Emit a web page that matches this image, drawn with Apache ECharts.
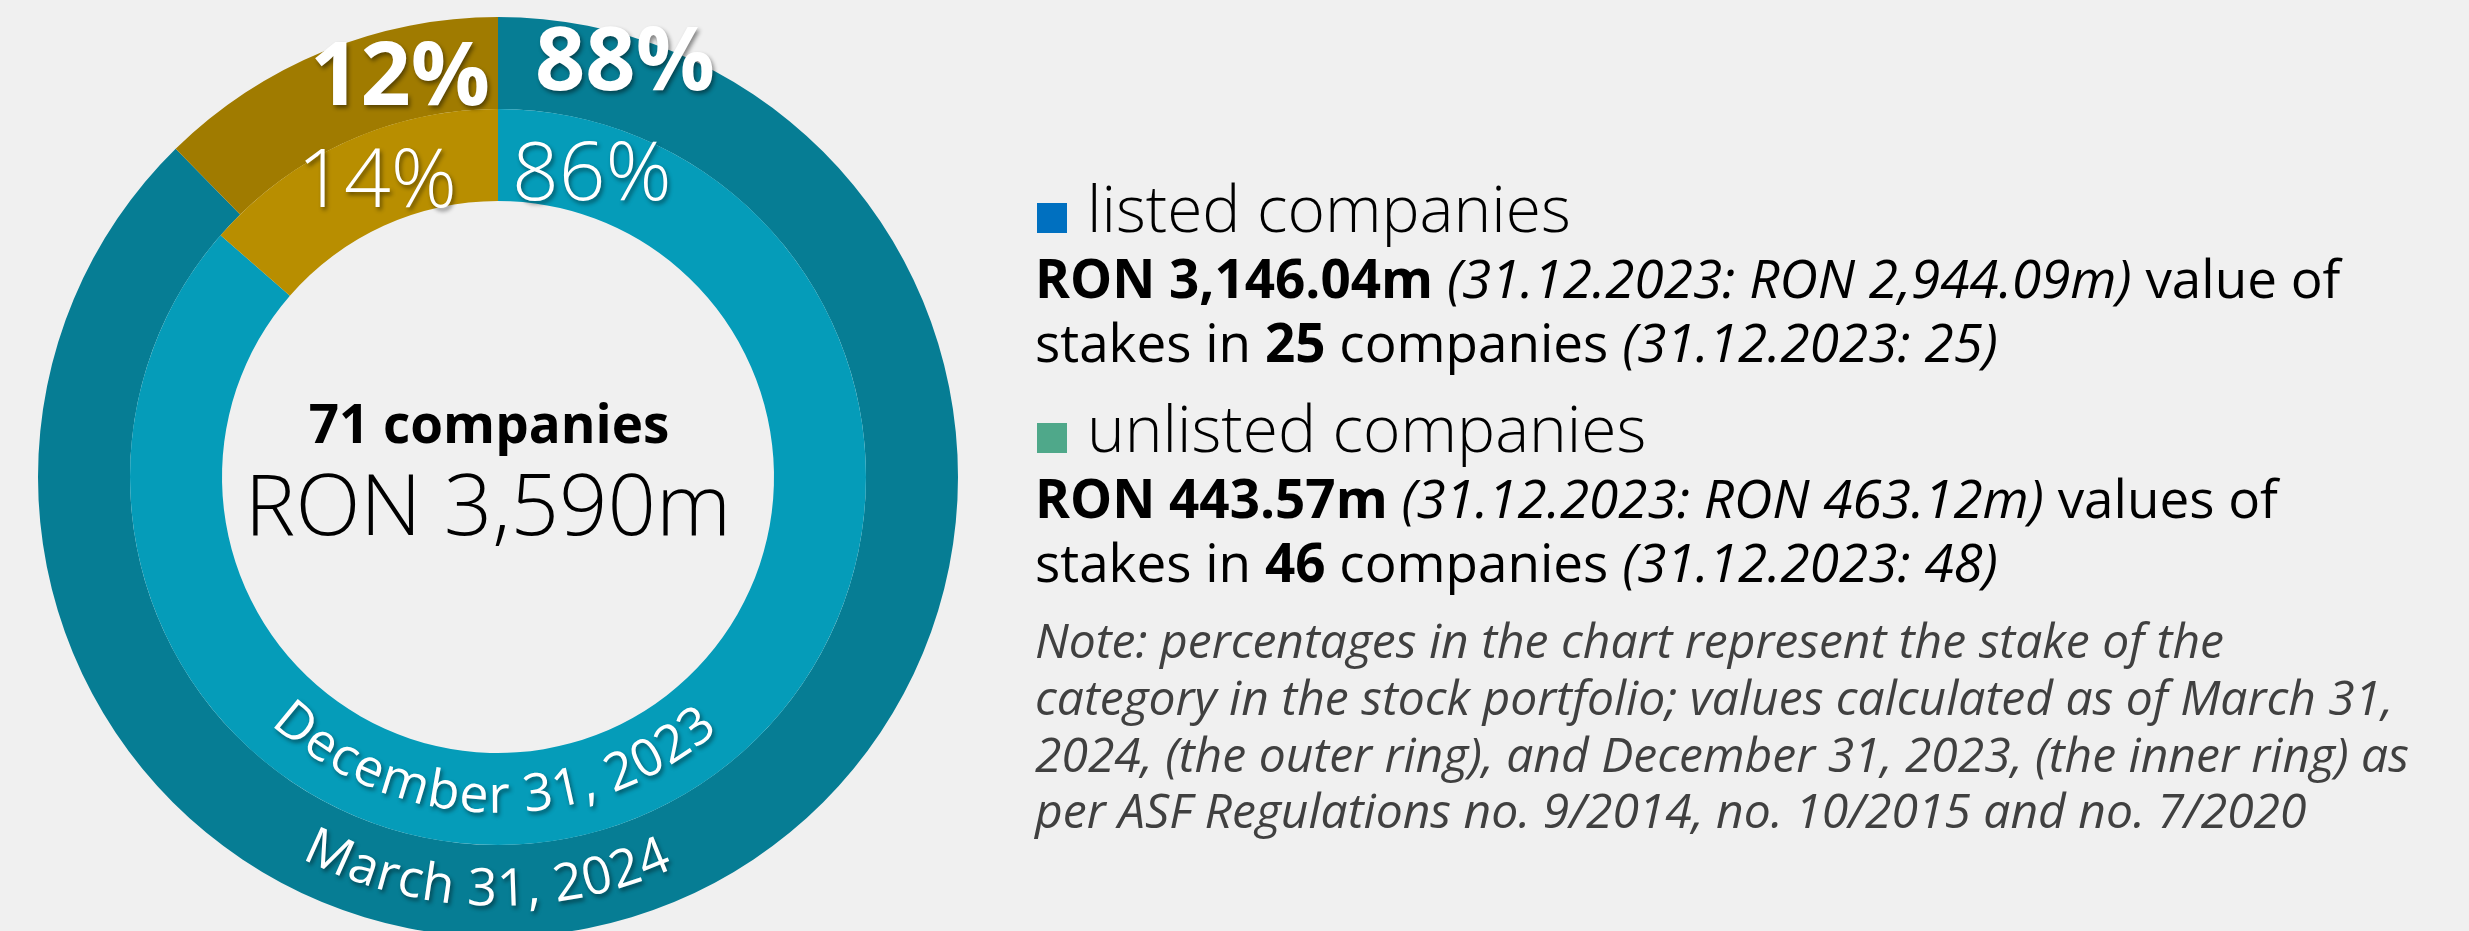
<!DOCTYPE html>
<html>
<head>
<meta charset="utf-8">
<script src="https://cdn.jsdelivr.net/npm/echarts@6/dist/echarts.min.js"></script>
<style>
html,body{margin:0;padding:0;background:#f0f0f0;}
#chart{width:2469px;height:931px;}
</style>
</head>
<body>
<div id="chart"></div>
<script>
// ---------- data ----------
const categories = ['listed companies', 'unlisted companies'];
const ringNames = ['March 31, 2024', 'December 31, 2023'];   // outer, inner
const outerValues = [3146.04, 443.57];   // RON m, 31.03.2024
const innerValues = [2944.09, 463.12];   // RON m, 31.12.2023
const companyCounts = [25, 46];
const priorCounts = [25, 48];
const totalCompanies = 71;
const noteLines = [
  'Note: percentages in the chart represent the stake of the',
  'category in the stock portfolio; values calculated as of March 31,',
  '2024, (the outer ring), and December 31, 2023, (the inner ring) as',
  'per ASF Regulations no. 9/2014, no. 10/2015 and no. 7/2020'
];

// ---------- styles ----------
const FONT = 'Open Sans';
const outerColors = ['#067d94', '#a07b00'];
const innerColors = ['#059cb9', '#b88e00'];
const legendColors = ['#0070c0', '#4fa88a'];
const CX = 498, CY = 477;
const R_OUT = [368, 460], R_IN = [276, 368];
const MID = 0.29; // distance from baseline to 'middle' line, in em

const fmt = (v, d) => v.toLocaleString('en-US', {minimumFractionDigits: d, maximumFractionDigits: d});
const pct = (arr, i) => Math.round(arr[i] / arr.reduce((a, b) => a + b, 0) * 100) + '%';
const total = outerValues.reduce((a, b) => a + b, 0);

const shadow = {textShadowColor: 'rgba(0,0,0,0.45)', textShadowBlur: 4, textShadowOffsetX: 2, textShadowOffsetY: 3};

// ---------- curved text ----------
const mctx = document.createElement('canvas').getContext('2d');
function arcText(str, rBase, size, weight, centerDeg) {
  const font = weight + ' ' + size + 'px "' + FONT + '"';
  const r = rBase - MID * size;
  mctx.font = font;
  const totalW = mctx.measureText(str).width;
  const center = centerDeg * Math.PI / 180;
  const start = center + totalW / 2 / r;
  const out = [];
  for (let i = 0; i < str.length; i++) {
    const ch = str[i];
    if (ch === ' ') continue;
    const pre = mctx.measureText(str.slice(0, i)).width;
    const w = mctx.measureText(ch).width;
    const a = start - (pre + w / 2) / r;
    out.push({
      type: 'text', z: 100,
      x: CX + r * Math.cos(a),
      y: CY + r * Math.sin(a),
      rotation: Math.PI / 2 - a,
      silent: true,
      style: Object.assign({
        text: ch, fill: '#ffffff', font: font,
        align: 'center', verticalAlign: 'middle'
      }, shadow)
    });
  }
  return out;
}

// text placed by its baseline
function txt(x, baseline, text, size, weight, opts) {
  return {
    type: 'text', x: x, y: baseline - MID * size, z: 100, silent: true,
    style: Object.assign({
      text: text, fontFamily: FONT, fontSize: size, fontWeight: weight,
      fill: '#000', align: 'left', verticalAlign: 'middle'
    }, opts || {})
  };
}

const BODY = 53, NOTE = 48, HEAD = 64;
const bodyRich = {
  b: {fontFamily: FONT, fontSize: BODY, fontWeight: 700, fill: '#000'},
  i: {fontFamily: FONT, fontSize: BODY, fontWeight: 400, fontStyle: 'italic', fill: '#000'}
};

const graphics = [];
// percentage labels
graphics.push(txt(490, 105, pct(outerValues, 1), 88, 700, Object.assign({fill: '#fff', align: 'right'}, shadow)));
graphics.push(txt(535, 90, pct(outerValues, 0), 88, 700, Object.assign({fill: '#fff'}, shadow)));
graphics.push(txt(457, 207, pct(innerValues, 1), 82, 300, Object.assign({fill: '#fff', align: 'right'}, shadow)));
graphics.push(txt(512, 200, pct(innerValues, 0), 82, 300, Object.assign({fill: '#fff'}, shadow)));
// centre
graphics.push(txt(489, 443, totalCompanies + ' companies', 53, 700, {align: 'center'}));
graphics.push(txt(488, 535, 'RON ' + fmt(total, 0) + 'm', 85, 300, {align: 'center'}));
// ring labels
graphics.push(...arcText(ringNames[1], 336, 52, 400, 90.8));
graphics.push(...arcText(ringNames[0], 429, 52, 400, 91.6));

// right-hand text
const blockBase = [232, 452];
for (let k = 0; k < 2; k++) {
  const base = blockBase[k];
  graphics.push({type: 'rect', z: 100, silent: true, shape: {x: 1037, y: base - 29, width: 30, height: 30}, style: {fill: legendColors[k]}});
  graphics.push(txt(1087, base, categories[k], HEAD, 300));
  const l1 = '{b|RON ' + fmt(outerValues[k], 2) + 'm} {i|(31.12.2023: RON ' + fmt(innerValues[k], 2) + 'm)} ' + (k === 0 ? 'value of' : 'values of');
  const l2 = 'stakes in {b|' + companyCounts[k] + '} companies {i|(31.12.2023: ' + priorCounts[k] + ')}';
  graphics.push(txt(1035, base + 66, l1, BODY, 400, {rich: bodyRich}));
  graphics.push(txt(1035, base + 130, l2, BODY, 400, {rich: bodyRich}));
}
const noteBase = [658, 715, 772, 828];
noteLines.forEach((t, i) => graphics.push(txt(1035, noteBase[i], t, NOTE, 400, {fontStyle: 'italic', fill: '#404040'})));

const chart = echarts.init(document.getElementById('chart'), null, {renderer: 'canvas'});
chart.setOption({
  backgroundColor: '#f0f0f0',
  animation: false,
  series: [
    {
      name: ringNames[0], type: 'pie', center: [CX, CY], radius: R_OUT,
      startAngle: 90, clockwise: true, silent: true, label: {show: false}, labelLine: {show: false},
      data: categories.map((c, i) => ({name: c, value: outerValues[i], itemStyle: {color: outerColors[i]}}))
    },
    {
      name: ringNames[1], type: 'pie', center: [CX, CY], radius: R_IN,
      startAngle: 90, clockwise: true, silent: true, label: {show: false}, labelLine: {show: false},
      data: categories.map((c, i) => ({name: c, value: innerValues[i], itemStyle: {color: innerColors[i]}}))
    }
  ],
  graphic: graphics
});
</script>
</body>
</html>
